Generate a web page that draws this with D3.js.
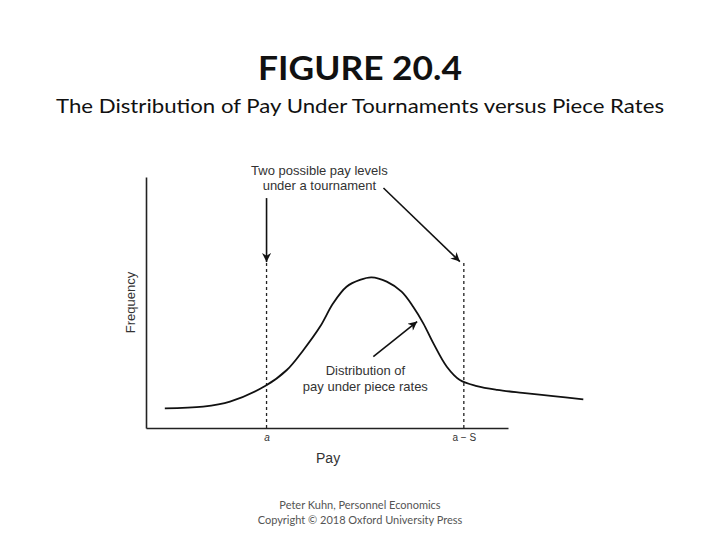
<!DOCTYPE html>
<html><head><meta charset="utf-8">
<script src="https://cdn.jsdelivr.net/npm/d3@7"></script>
<style>body{margin:0;background:#fff}</style>
</head><body>
<svg id="c" width="720" height="540"></svg>
<script>
// Data (pay units on x, frequency units on y)
const curvePay  = [5.2, 15.8, 23.2, 32.9, 38.9, 43.5, 48.1, 51.7, 55.4, 59.1, 62.3, 66.5, 70.6, 73.8, 76.6, 79.4, 83.1, 86.7, 91.4, 97.0, 104.0, 112.5, 120.8];
const curveFreq = [7.8, 8.5, 10.5, 16.7, 23.1, 31.1, 40.4, 49.7, 56.3, 59.0, 60.0, 58.3, 54.3, 48.3, 41.7, 33.7, 24.4, 19.1, 16.7, 15.2, 14.0, 12.7, 11.4];
const tickPay    = [33.3, 87.8];
const tickLabels = ["a", "a − S"];
const dashTops   = [66.9, 65.7];
const arrowFrom  = [[33.3, 91.6], [65.6, 95.6], [62.8, 28.4]];
const arrowTo    = [[33.3, 66.1], [86.7, 66.3], [74.9, 42.4]];
const noteLines  = ["Two possible pay levels", "under a tournament", "Distribution of", "pay under piece rates"];
const notePos    = [[47.9, 100.8], [47.9, 94.8], [60.6, 21.1], [60.6, 14.9]];

const svg = d3.select("#c");
const x = d3.scaleLinear().domain([0, 100]).range([146, 508]);
const y = d3.scaleLinear().domain([0, 100]).range([428, 177]);

// Titles
svg.append("text").attr("x", 360).attr("y", 80).attr("text-anchor", "middle")
  .attr("font-family", "Lato, 'Open Sans', sans-serif").attr("font-size", 32).attr("font-weight", "bold").attr("fill", "#111")
  .attr("textLength", 204).attr("lengthAdjust", "spacingAndGlyphs").text("FIGURE 20.4");
svg.append("text").attr("x", 360).attr("y", 113).attr("text-anchor", "middle")
  .attr("font-family", "Lato, 'Open Sans', sans-serif").attr("font-size", 20).attr("fill", "#111")
  .attr("textLength", 608).attr("lengthAdjust", "spacingAndGlyphs")
  .text("The Distribution of Pay Under Tournaments versus Piece Rates");

// Arrow marker
svg.append("defs").append("marker").attr("id", "ah").attr("viewBox", "0 0 10 10")
  .attr("refX", 10).attr("refY", 5).attr("markerWidth", 11).attr("markerHeight", 9)
  .attr("markerUnits", "userSpaceOnUse").attr("orient", "auto")
  .append("path").attr("d", "M0,0 L10,5 L0,10 L3,5 Z").attr("fill", "#111");

// Axes
const gx = svg.append("g").attr("transform", `translate(0,${y(0)})`)
  .call(d3.axisBottom(x).tickValues(tickPay).tickFormat((d, i) => tickLabels[i]).tickSize(0).tickPadding(6));
gx.select(".domain").attr("stroke", "#222").attr("stroke-width", 1.6);
gx.selectAll("text").attr("font-family", "'Liberation Sans', Arial, sans-serif").attr("font-size", 10)
  .attr("fill", "#333").attr("font-style", (d, i) => i === 0 ? "italic" : "normal");
const gy = svg.append("g").attr("transform", `translate(${x(0)},0)`)
  .call(d3.axisLeft(y).tickValues([]).tickSize(0));
gy.select(".domain").attr("stroke", "#222").attr("stroke-width", 1.6);

// Axis titles
svg.append("text").attr("x", x(50.3)).attr("y", 463).attr("text-anchor", "middle")
  .attr("font-family", "'Liberation Sans', Arial, sans-serif").attr("font-size", 14).attr("fill", "#333").text("Pay");
svg.append("text").attr("transform", `translate(135,${y(50)}) rotate(-90)`).attr("text-anchor", "middle")
  .attr("font-family", "'Liberation Sans', Arial, sans-serif").attr("font-size", 13).attr("fill", "#333").text("Frequency");

// Dashed lines
svg.selectAll(".dash").data(tickPay).join("line").attr("class", "dash")
  .attr("x1", d => x(d)).attr("x2", d => x(d)).attr("y1", y(0)).attr("y2", (d, i) => y(dashTops[i]))
  .attr("stroke", "#222").attr("stroke-width", 1.3).attr("stroke-dasharray", "3,3");

// Curve
const pts = curvePay.map((p, i) => [p, curveFreq[i]]);
svg.append("path").datum(pts)
  .attr("d", d3.line().x(d => x(d[0])).y(d => y(d[1])).curve(d3.curveCatmullRom.alpha(0.5)))
  .attr("fill", "none").attr("stroke", "#111").attr("stroke-width", 1.8);

// Arrows
svg.selectAll(".arr").data(arrowFrom).join("line").attr("class", "arr")
  .attr("x1", d => x(d[0])).attr("y1", d => y(d[1]))
  .attr("x2", (d, i) => x(arrowTo[i][0])).attr("y2", (d, i) => y(arrowTo[i][1]))
  .attr("stroke", "#111").attr("stroke-width", 1.6).attr("marker-end", "url(#ah)");

// Notes
svg.selectAll(".note").data(noteLines).join("text").attr("class", "note")
  .attr("x", (d, i) => x(notePos[i][0])).attr("y", (d, i) => y(notePos[i][1]))
  .attr("text-anchor", "middle").attr("font-family", "'Liberation Sans', Arial, sans-serif")
  .attr("font-size", 13).attr("fill", "#333").text(d => d);

// Footer
svg.append("text").attr("x", 360).attr("y", 509).attr("text-anchor", "middle")
  .attr("font-family", "Lato, 'Open Sans', sans-serif").attr("font-size", 11).attr("fill", "#555")
  .text("Peter Kuhn, Personnel Economics");
svg.append("text").attr("x", 360).attr("y", 524).attr("text-anchor", "middle")
  .attr("font-family", "Lato, 'Open Sans', sans-serif").attr("font-size", 11).attr("fill", "#555")
  .text("Copyright © 2018 Oxford University Press");
</script>
</body></html>
